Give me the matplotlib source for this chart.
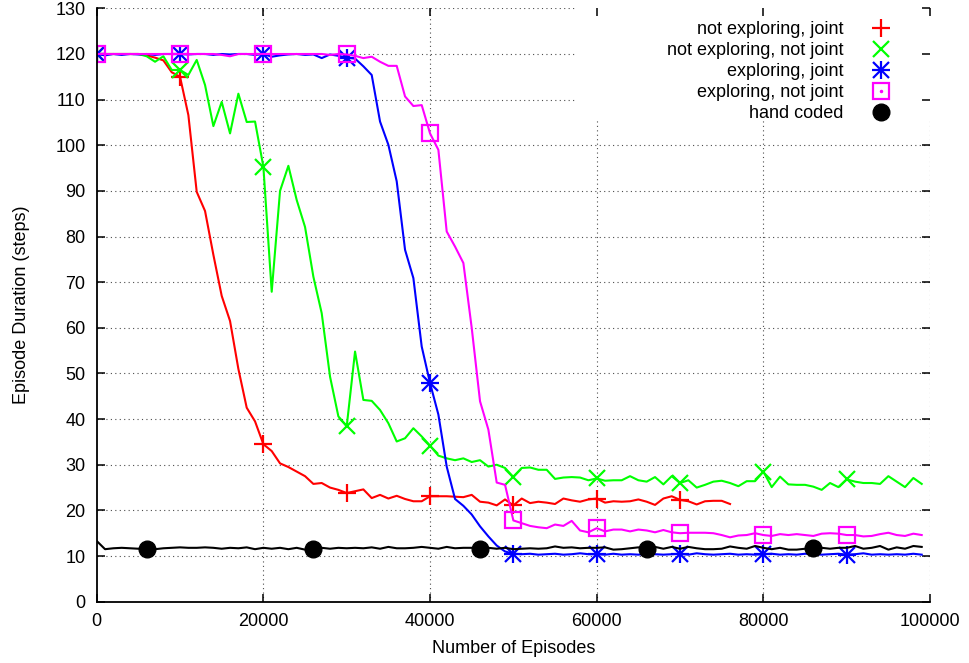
import numpy as np
import matplotlib.pyplot as plt
from matplotlib.lines import Line2D
from matplotlib.patches import Rectangle

plt.rcParams['font.family'] = ['Liberation Sans', 'DejaVu Sans']

episodes = np.arange(0, 100000, 1000)
episodes_red = np.arange(0, 77000, 1000)

not_exploring_joint = [
    120, 120, 120, 120, 120, 120, 119.7, 119.2, 118.6, 116.0,
    115.0, 106.6, 89.8, 85.6, 76.0, 67.0, 61.5, 51.0, 42.5, 39.5,
    34.5, 33.0, 30.3, 29.5, 28.5, 27.5, 25.8, 26.0, 25.0, 24.5,
    23.8, 24.2, 24.6, 22.7, 23.4, 22.6, 23.2, 22.5, 22.0, 22.0,
    23.1, 23.1, 23.1, 23.0, 22.9, 23.4, 21.9, 21.7, 21.1, 22.4,
    21.1, 22.6, 21.6, 21.9, 21.7, 21.4, 22.6, 22.2, 21.9, 22.4,
    22.6, 21.7, 22.0, 21.9, 22.0, 22.4, 21.9, 21.2, 22.6, 23.1,
    22.3, 22.0, 21.3, 22.0, 22.1, 22.1, 21.4]

not_exploring_not_joint = [
    120, 120, 120, 120, 120, 120, 119.5, 118.3, 119.5, 116.5,
    116.5, 115.4, 118.7, 113.2, 104.2, 109.5, 102.6, 111.3, 105.1, 105.2,
    95.3, 67.9, 90.0, 95.5, 88.0, 82.1, 71.2, 63.2, 49.3, 40.6,
    38.4, 54.8, 44.2, 44.0, 42.0, 39.1, 35.1, 35.8, 38.0, 36.2,
    34.2, 32.0, 31.4, 31.0, 31.4, 30.6, 31.0, 29.6, 30.0, 29.3,
    27.3, 29.3, 29.4, 28.9, 28.9, 26.9, 27.2, 27.3, 27.2, 26.6,
    27.0, 26.5, 26.6, 26.6, 27.5, 26.6, 26.3, 27.3, 25.7, 27.5,
    26.0, 26.6, 25.0, 25.6, 26.3, 26.5, 26.0, 25.3, 26.4, 26.4,
    28.5, 25.1, 27.4, 25.7, 25.6, 25.6, 25.2, 24.5, 26.0, 25.1,
    26.8, 26.3, 26.0, 26.0, 25.8, 27.5, 26.3, 25.1, 27.1, 25.8]

exploring_joint = [
    120, 119.7, 120, 119.8, 120, 119.9, 120, 119.8, 120, 120,
    120, 119.9, 120, 120, 119.8, 120, 119.9, 120, 120, 119.8,
    120, 119.4, 119.7, 119.9, 120, 119.8, 119.9, 119.1, 119.9, 119.6,
    119.2, 119.0, 117.3, 115.4, 105.2, 100.1, 92.1, 77.1, 70.9, 55.9,
    47.9, 41.0, 29.6, 22.5, 21.0, 19.1, 16.5, 14.3, 12.3, 11.0,
    10.5, 10.4, 10.5, 10.3, 10.4, 10.5, 10.3, 10.4, 10.6, 10.4,
    10.4, 10.3, 10.5, 10.3, 10.4, 10.3, 10.5, 10.4, 10.3, 10.4,
    10.5, 10.3, 10.6, 10.4, 10.3, 10.4, 10.5, 10.3, 10.4, 10.3,
    10.4, 10.5, 10.3, 10.4, 10.3, 10.5, 10.4, 10.3, 10.4, 10.5,
    10.3, 10.4, 10.6, 10.3, 10.4, 10.3, 10.4, 10.3, 10.5, 10.3]

exploring_not_joint = [
    120, 120, 120, 120, 120, 120, 120, 120, 120, 120,
    120, 120, 120, 120, 120, 119.8, 119.5, 120, 120, 120,
    120, 120, 120, 120, 120, 120, 120, 120, 119.8, 120,
    119.9, 119.6, 119.1, 119.4, 118.3, 117.4, 117.4, 110.7, 108.6, 108.8,
    102.6, 99.0, 81.1, 77.8, 74.2, 60.0, 43.9, 37.7, 26.1, 25.6,
    17.8, 17.2, 16.6, 16.3, 16.1, 16.9, 16.6, 17.7, 15.6, 15.2,
    16.1, 15.4, 15.8, 15.8, 15.4, 15.8, 15.6, 15.2, 15.7, 15.2,
    15.0, 15.1, 15.1, 15.1, 15.0, 14.6, 14.1, 14.5, 14.6, 15.0,
    14.6, 14.4, 14.8, 14.6, 14.8, 14.6, 14.4, 14.9, 15.0, 14.9,
    14.6, 14.6, 14.3, 14.4, 14.8, 15.1, 14.6, 14.4, 14.9, 14.6]

hand_coded = [
    13.3, 11.5, 11.7, 11.8, 11.7, 11.6, 11.6, 11.5, 11.7, 11.8,
    11.9, 11.8, 11.8, 11.9, 11.8, 11.6, 11.8, 11.7, 11.9, 11.5,
    11.8, 11.6, 11.8, 11.5, 11.8, 11.4, 11.5, 11.8, 11.6, 11.8,
    11.7, 11.8, 11.7, 11.9, 11.6, 12.0, 11.7, 11.7, 11.8, 12.0,
    11.8, 11.6, 12.0, 11.7, 11.8, 11.8, 11.6, 11.8, 11.6, 11.8,
    11.5, 11.6, 11.7, 11.6, 11.7, 12.1, 11.8, 11.9, 11.7, 11.8,
    11.8, 11.9, 11.4, 11.5, 11.7, 11.9, 11.6, 12.0, 11.6, 12.0,
    11.6, 12.0, 11.7, 11.5, 11.5, 11.6, 12.1, 11.8, 11.6, 12.2,
    11.8, 11.5, 11.8, 11.4, 11.4, 11.6, 11.8, 11.8, 11.6, 11.8,
    11.8, 12.2, 11.6, 11.8, 12.2, 11.4, 11.9, 11.6, 12.2, 12.0]

labels = ['not exploring, joint', 'not exploring, not joint', 'exploring, joint',
          'exploring, not joint', 'hand coded']

x_ticks = np.arange(0, 100001, 20000)
y_ticks = np.arange(0, 131, 10)

fig = plt.figure(figsize=(9.7, 6.63), dpi=100)
ax = fig.add_axes([0.0997, 0.0925, 0.8591, 0.8949])

# gnuplot-ish dotted grid, drawn by hand so the key box can blank it
for yv in y_ticks[1:]:
    ax.axhline(yv, color='0.3', lw=0.8, ls=(0, (1, 3)), zorder=0.8)
for xv in x_ticks[1:]:
    ax.axvline(xv, color='0.3', lw=0.8, ls=(0, (1, 3)), zorder=0.8)
ax.add_patch(Rectangle((57400, 105.5), 100000 - 57400, 130 - 105.5,
                       facecolor='white', edgecolor='none', zorder=1))

lw = 1.5
mew = 1.6
ax.plot(episodes_red, not_exploring_joint, color='#ff0000', lw=lw,
        marker='+', ms=13, mew=mew, markevery=10)
ax.plot(episodes, not_exploring_not_joint, color='#00ff00', lw=lw,
        marker='x', ms=12, mew=mew, markevery=10)
ax.plot(episodes, exploring_joint, color='#0000ff', lw=lw,
        marker='+', ms=13, mew=mew, markevery=10)
ax.plot(episodes, exploring_joint, ls='none', color='#0000ff',
        marker='x', ms=11, mew=mew, markevery=10)
ax.plot(episodes, exploring_not_joint, color='#ff00ff', lw=lw,
        marker='s', ms=12, mew=mew, mfc='none', markevery=10)
ax.plot(episodes, hand_coded, color='black', lw=lw,
        marker='o', ms=12, markevery=slice(6, None, 20))

h_red = Line2D([], [], ls='none', color='#ff0000', marker='+', ms=13, mew=mew)
h_green = Line2D([], [], ls='none', color='#00ff00', marker='x', ms=12, mew=mew)
h_blue = (Line2D([], [], ls='none', color='#0000ff', marker='+', ms=13, mew=mew),
          Line2D([], [], ls='none', color='#0000ff', marker='x', ms=11, mew=mew))
h_mag = (Line2D([], [], ls='none', color='#ff00ff', marker='s', ms=12, mew=mew, mfc='none'),
         Line2D([], [], ls='none', color='#ff00ff', marker='.', ms=3))
h_black = Line2D([], [], ls='none', color='black', marker='o', ms=12)
leg = ax.legend([h_red, h_green, h_blue, h_mag, h_black], labels,
                loc='upper right', bbox_to_anchor=(0.9634, 0.978),
                markerfirst=False, frameon=False, fontsize=13,
                handlelength=2, handletextpad=1.1, labelspacing=0.22,
                borderpad=0, borderaxespad=0)

ax.set_xlim(0, 100000)
ax.set_ylim(0, 130)
ax.set_xticks(x_ticks)
ax.set_yticks(y_ticks)
ax.spines['top'].set_visible(False)
ax.spines['right'].set_visible(False)
ax.spines['left'].set_linewidth(1.3)
ax.spines['bottom'].set_linewidth(1.3)
ax.tick_params(direction='in', length=6, width=1.1, top=True, right=True,
               labelsize=13, pad=8)

ax.set_xlabel('Number of Episodes', fontsize=13, labelpad=7)
ax.set_ylabel('Episode Duration (steps)', fontsize=13, labelpad=18)

fig.savefig('out.png', dpi=100)
